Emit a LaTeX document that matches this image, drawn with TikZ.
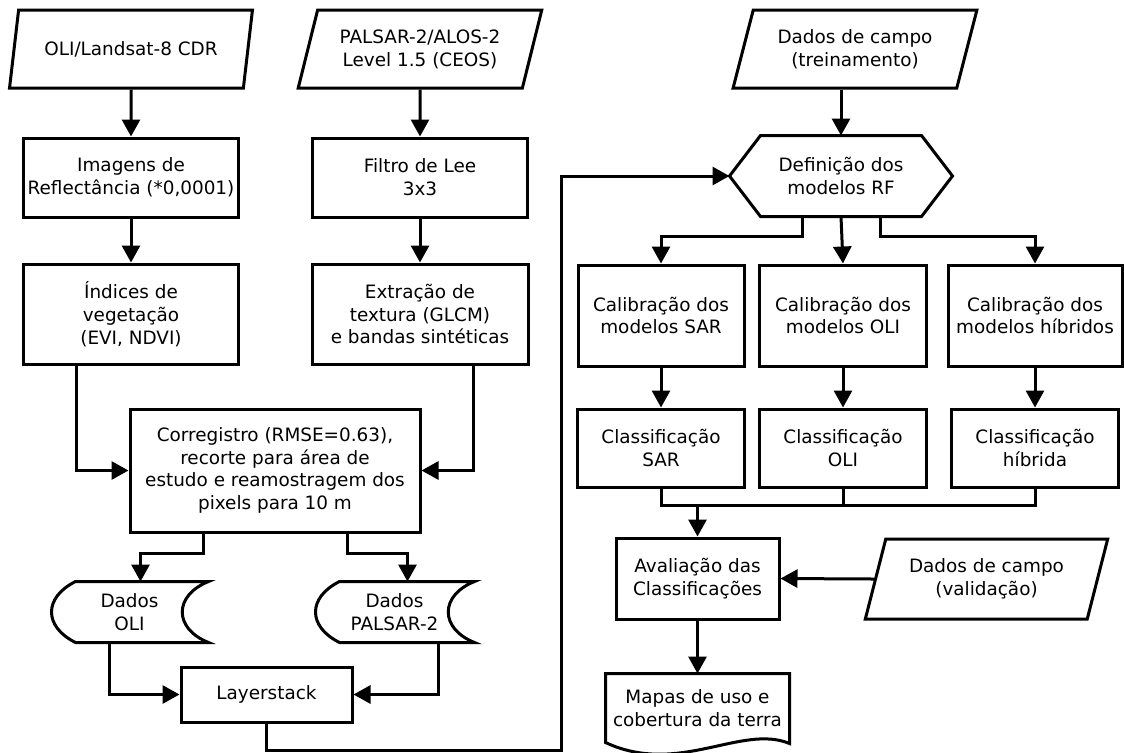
\documentclass[tikz,border=0pt]{standalone}
\usepackage{fontspec}
\setmainfont{DejaVu Sans}
\usepackage{tikz}
\usetikzlibrary{arrows.meta}
\usetikzlibrary{calc}
\usetikzlibrary{shapes.geometric}

% contornos das formas especiais (desenhados sobre nos sem borda)
\newcommand{\dadosoutline}[1]{%
  \draw ($(#1.north west)+(25,0)$) -- (#1.north east)
    .. controls ($(#1.north east)+(-35,14)$) and ($(#1.south east)+(-35,-14)$) .. (#1.south east)
    -- ($(#1.south west)+(25,0)$)
    .. controls ($(#1.south west)+(-7,-16)$) and ($(#1.north west)+(-7,16)$) .. ($(#1.north west)+(25,0)$) -- cycle;}
\newcommand{\hexoutline}[1]{%
  \draw (#1.west) -- ($(#1.north west)+(31,0)$) -- ($(#1.north east)+(-31,0)$) -- (#1.east)
    -- ($(#1.south east)+(-31,0)$) -- ($(#1.south west)+(31,0)$) -- cycle;}
\newcommand{\docoutline}[1]{%
  \draw (#1.north west) -- (#1.north east) -- ($(#1.south east)+(0,1)$)
    .. controls ($(#1.south east)+(-48,-19)$) and ($(#1.south west)+(73,34)$) .. (#1.south west) -- cycle;}

\begin{document}
\begin{tikzpicture}[x=0.5pt, y=-0.5pt, line width=1.5pt,
    txt/.style={align=center, font=\fontsize{9.2}{11.4}\selectfont, inner sep=1pt},
    proc/.style={txt, draw, rectangle},
    bare/.style={txt, rectangle},
    entrada/.style={txt, draw, trapezium, trapezium left angle=70, trapezium right angle=110,
        trapezium stretches=true, minimum width=122pt, minimum height=39pt},
    arr/.style={-{Triangle[length=8.5pt,width=9pt]}}]

        \useasboundingbox (0,0) rectangle (1124,752);

        % Ramo optico (OLI)
        \node [entrada] (landsat) at (131,49) {OLI/Landsat-8 CDR};
        \node [proc, minimum width=107.5pt, minimum height=39.5pt] (refl) at (131,177.5) {Imagens de\\Reflectância (*0,0001)};
        \node [proc, minimum width=107.5pt, minimum height=50pt] (ndvi) at (131,314) {Índices de\\vegetação\\(EVI, NDVI)};

        % Ramo radar (PALSAR)
        \node [entrada] (palsar) at (420,49) {PALSAR-2/ALOS-2\\Level 1.5 (CEOS)};
        \node [proc, minimum width=107.5pt, minimum height=39.5pt] (lee) at (420,177.5) {Filtro de Lee\\3x3};
        \node [proc, minimum width=108pt, minimum height=50pt] (textura) at (420,314) {Extração de\\textura (GLCM)\\e bandas sintéticas};

        \node [proc, minimum width=145pt, minimum height=61.5pt] (coreg) at (275,470.5) {Corregistro (RMSE=0.63),\\recorte para área de\\estudo e reamostragem dos\\pixels para 10 m};
        \node [bare, minimum width=77.5pt, minimum height=29pt] (doli) at (129.5,612) {Dados\\OLI};
        \node [bare, minimum width=78.5pt, minimum height=29pt] (dpal) at (394.5,612) {Dados\\PALSAR-2};
        \dadosoutline{doli}
        \dadosoutline{dpal}
        \node [proc, minimum width=85.5pt, minimum height=27.5pt] (stack) at (266.5,694.5) {Layerstack};

        \draw[arr] (landsat) -- (refl);
        \draw[arr] (refl) -- (ndvi);
        \draw[arr] (palsar) -- (lee);
        \draw[arr] (lee) -- (textura);
        \draw[arr] ([xshift=-27.5pt]ndvi.south) |- (coreg.west);
        \draw[arr] ([xshift=26.5pt]textura.south) |- (coreg.east);
        \draw[arr] ([xshift=-36pt]coreg.south) -- ++(0,20) -| ([xshift=5.5pt]doli.north);
        \draw[arr] ([xshift=36pt]coreg.south) -- ++(0,20) -| ([xshift=6.5pt]dpal.north);
        \draw[arr] ([xshift=-10pt]doli.south) |- (stack.west);
        \draw[arr] ([xshift=22pt]dpal.south) |- (stack.east);

        % Modelos RF
        \node [entrada] (campo) at (855,49) {Dados de campo\\(treinamento)};
        \node [bare, minimum width=110pt, minimum height=39pt] (modelos) at (841,176) {Definição dos\\modelos RF};
        \hexoutline{modelos}
        \coordinate (volta) at (561,750);
        \draw[arr] (stack.south) |- (volta) |- (modelos.west);
        \draw[arr] (modelos.north |- campo.south) -- (modelos.north);

        \foreach \m/\x/\w/\cal/\cls in {sar/661/83/{Calibração dos\\modelos SAR}/{Classificação\\SAR},
                                        oli/843/83.5/{Calibração dos\\modelos OLI}/{Classificação\\OLI},
                                        hib/1035/87/{Calibração dos\\modelos híbridos}/{Classificação\\híbrida}} {
            \node [proc, minimum width=\w pt, minimum height=50.5pt] (cal\m) at (\x,315.5) {\cal};
            \node [proc, minimum width=83.5pt, minimum height=39pt] (cls\m) at (\x,448) {\cls};
            \draw[arr] (cal\m) -- (cls\m);
        }
        \draw[arr] ([xshift=-19.5pt]modelos.south) -- ++(0,20) -| (calsar.north);
        \draw[arr] (modelos.south) -- (caloli.north);
        \draw[arr] ([xshift=19.5pt]modelos.south) -- ++(0,20) -| (calhib.north);

        % Avaliacao
        \node [proc, minimum width=81.5pt, minimum height=40.5pt] (aval) at (697.5,578.5) {Avaliação das\\Classificações};
        \node [entrada, minimum height=40pt] (valid) at (986.5,579) {Dados de campo\\(validação)};
        \node [bare, minimum width=90.5pt, minimum height=33pt] (mapas) at (697.5,708) {Mapas de uso e\\cobertura da terra};
        \docoutline{mapas}

        \coordinate (juncao) at (697.5,505);
        \draw (clssar.south) |- (juncao) -| (clshib.south);
        \draw (clsoli.south) -- (clsoli.south |- juncao);
        \draw[arr] (juncao) -- (aval.north);
        \draw[arr] (valid.west) -- (aval.east);
        \draw[arr] (aval) -- (mapas);
    \end{tikzpicture}
\end{document}
